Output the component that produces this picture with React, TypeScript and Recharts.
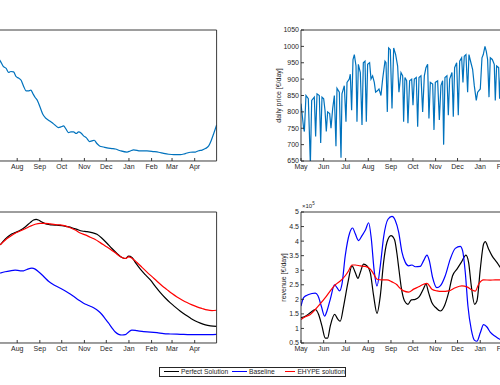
import React from 'react';
import { LineChart, Line, XAxis, YAxis, Legend } from 'recharts';

type Pt = [number, number];

// x values are days counted from 1 May; ticks sit on the first day of each month
const monthTicks = [0, 31, 61, 92, 123, 153, 184, 214, 245, 276, 304, 335];
const monthLabels = ['May', 'Jun', 'Jul', 'Aug', 'Sep', 'Oct', 'Nov', 'Dec', 'Jan', 'Feb', 'Mar', 'Apr'];
// the left column is cropped before August
const visibleLeftTicks = monthTicks.slice(3);

const levelTicks = [0, 1, 2, 3, 4, 5, 6];
const priceTicks = [650, 700, 750, 800, 850, 900, 950, 1000, 1050];
const storageTicks = [0, 1, 2, 3, 4, 5, 6, 7, 8];
const revenueTicks = [0.5, 1, 1.5, 2, 2.5, 3, 3.5, 4, 4.5, 5];

const seriesNames = ['Perfect Solution', 'Baseline', 'EHYPE solution'];

// top left: only the part right of the crop is visible
const levelSeries: Pt[] = [
  [66, 4.7], [68.7, 4.59], [73.2, 4.32], [76.9, 4.24], [80.1, 4.06], [83.3, 4.1], [87, 4.08],
  [90.6, 3.86], [93.8, 3.8], [97.4, 3.7], [100.6, 3.44], [104.3, 3.21], [107.5, 3.21], [110.7, 3.25],
  [113.4, 3.09], [116.6, 2.91], [119.8, 2.76], [123.5, 2.45], [127.1, 2.14], [130.3, 1.99],
  [134.9, 1.87], [139.5, 1.76], [144, 1.64], [148.6, 1.53], [151.8, 1.56], [155.5, 1.61],
  [158.7, 1.47], [162.3, 1.3], [165.5, 1.33], [169.2, 1.33], [172.8, 1.26], [176, 1.33],
  [179.7, 1.27], [182.9, 1.15], [186.5, 1.07], [191.1, 0.89], [194.3, 0.92], [197.5, 0.95],
  [201.1, 0.8], [204.8, 0.69], [210.3, 0.64], [214.9, 0.6], [221.7, 0.57], [226.3, 0.55],
  [233.2, 0.47], [242.3, 0.41], [246.9, 0.46], [251.4, 0.51], [260.6, 0.46], [269.7, 0.46],
  [278.8, 0.43], [285.7, 0.4], [292.5, 0.35], [299.4, 0.31], [306.2, 0.29], [315.4, 0.29],
  [322.2, 0.34], [329.1, 0.4], [336, 0.41], [340.5, 0.47], [345.1, 0.5], [349.7, 0.57],
  [354.2, 0.69], [357.4, 0.92], [361.1, 1.26], [365, 1.65],
];

const priceSeries: Pt[] = [
  [0, 825], [3.6, 750], [4.6, 740], [6.8, 850], [10, 840], [12.8, 640], [14.6, 835], [18.2, 845],
  [20, 725], [21.9, 855], [25, 850], [26.9, 705], [28.7, 845], [31, 840], [32.8, 805], [34.6, 740],
  [36.4, 800], [39.2, 795], [41, 750], [43.3, 810], [45.6, 850], [47.8, 695], [49.2, 872],
  [52.4, 860], [54.7, 660], [56, 855], [59.2, 880], [61.5, 770], [62.9, 890], [66, 900],
  [67.4, 915], [69.2, 805], [71.1, 960], [72.9, 975], [75.2, 940], [76.5, 770], [78.4, 945],
  [81.1, 920], [83.4, 760], [85.2, 950], [87.5, 955], [89.3, 770], [91.1, 945], [93.8, 950],
  [95.7, 900], [97.9, 910], [100.2, 890], [102, 860], [104.8, 865], [106.6, 870], [109.3, 850],
  [111.6, 900], [114.8, 955], [116.2, 950], [118, 800], [119.8, 995], [122.1, 990], [124.4, 810],
  [126.7, 995], [129.4, 975], [132.1, 940], [133.9, 860], [136.7, 920], [139, 910], [140.3, 770],
  [142.1, 905], [144.4, 895], [146.2, 765], [148.5, 895], [151.3, 900], [153.1, 820], [154.9, 900],
  [157.6, 905], [159.5, 755], [161.3, 905], [164, 910], [166.3, 800], [168.6, 910], [170.8, 935],
  [173.1, 945], [174.9, 780], [176.8, 890], [180, 885], [181.8, 745], [183.6, 890], [186.8, 895],
  [189.1, 775], [191.3, 880], [193.6, 895], [195, 700], [196.8, 905], [199.5, 910], [201.4, 790],
  [203.2, 900], [206.4, 920], [208.2, 785], [210, 935], [212.8, 950], [215, 790], [216.9, 955],
  [219.6, 965], [221.4, 890], [223.2, 970], [225.5, 975], [227.8, 860], [229.6, 975], [232.3, 950],
  [234.6, 930], [236.9, 880], [239.6, 835], [241.5, 860], [245.1, 870], [247.4, 965], [249.2, 975],
  [251.5, 1000], [253.3, 985], [255.1, 960], [257, 845], [258.8, 965], [261.5, 960], [264.2, 945],
  [265.6, 835], [267.4, 940], [270.2, 935], [271.5, 840], [273.3, 930], [276, 925],
];

const storagePerfect: Pt[] = [
  [68.7, 5.99], [75.5, 6.34], [82.4, 6.6], [89.2, 6.74], [96.1, 6.88], [102.9, 7.09], [109.8, 7.35],
  [114.4, 7.51], [118, 7.55], [121.2, 7.51], [125.8, 7.39], [132.6, 7.25], [139.5, 7.21],
  [146.3, 7.19], [153.2, 7.17], [160.1, 7.11], [166.9, 7.04], [173.8, 6.94], [180.6, 6.84],
  [187.5, 6.8], [194.3, 6.74], [201.2, 6.64], [208, 6.4], [214.9, 6.09], [221.7, 5.77],
  [228.6, 5.47], [235.4, 5.22], [240, 5.16], [244.6, 5.3], [249.1, 5.22], [253.7, 4.92],
  [260.6, 4.51], [267.4, 4.17], [274.3, 3.85], [281.1, 3.46], [288, 3.08], [294.8, 2.75],
  [301.7, 2.45], [308.5, 2.19], [315.4, 1.94], [322.2, 1.72], [329.1, 1.52], [336, 1.34],
  [342.8, 1.21], [349.7, 1.11], [356.5, 1.05], [365, 1.01],
];

const storageBaseline: Pt[] = [
  [68.7, 4.27], [75.5, 4.35], [82.4, 4.41], [89.2, 4.45], [96.1, 4.41], [100.7, 4.41], [105.2, 4.49],
  [112.1, 4.57], [116.6, 4.51], [121.2, 4.35], [125.8, 4.17], [130.3, 3.97], [134.9, 3.77],
  [141.8, 3.56], [148.6, 3.4], [155.5, 3.24], [162.3, 3.06], [169.2, 2.85], [176, 2.63],
  [182.9, 2.43], [189.7, 2.29], [196.6, 2.15], [203.5, 1.94], [208, 1.74], [212.6, 1.48],
  [217.2, 1.21], [221.7, 0.93], [226.3, 0.67], [230.9, 0.53], [235.4, 0.49], [240, 0.51],
  [244.6, 0.67], [249.1, 0.79], [256, 0.75], [265.1, 0.69], [274.3, 0.67], [283.4, 0.63],
  [292.5, 0.57], [301.7, 0.55], [315.4, 0.53], [329.1, 0.51], [342.8, 0.51], [356.5, 0.51],
  [365, 0.53],
];

const storageEhype: Pt[] = [
  [68.7, 5.99], [75.5, 6.28], [82.4, 6.5], [89.2, 6.7], [96.1, 6.84], [102.9, 6.98], [109.8, 7.13],
  [116.6, 7.25], [123.5, 7.31], [130.3, 7.31], [137.2, 7.27], [144.1, 7.23], [150.9, 7.21],
  [157.8, 7.15], [164.6, 7.04], [171.5, 6.9], [178.3, 6.72], [185.2, 6.6], [192, 6.46],
  [198.9, 6.32], [205.7, 6.13], [212.6, 5.93], [219.5, 5.73], [226.3, 5.51], [233.2, 5.28],
  [240, 5.16], [244.6, 5.26], [249.1, 5.18], [256, 4.92], [262.9, 4.62], [269.7, 4.33],
  [276.6, 4.05], [283.4, 3.77], [290.3, 3.5], [297.1, 3.26], [304, 3.02], [310.8, 2.81],
  [317.7, 2.63], [324.5, 2.47], [331.4, 2.33], [338.2, 2.21], [345.1, 2.11], [352, 2.02],
  [358.8, 1.98], [365, 2.0],
];

// revenue in units of 1e5 €/day
const revenuePerfect: Pt[] = [
  [0, 1.37], [5.9, 1.42], [12.7, 1.54], [19.5, 1.65], [24.1, 1.48], [28.7, 1.08], [33.2, 0.67],
  [36.4, 0.67], [40, 1.08], [45.9, 1.48], [50.6, 1.31], [53.7, 1.25], [58.3, 1.77], [64.2, 2.58],
  [69.7, 3.15], [74.2, 2.92], [77.9, 2.72], [81, 2.92], [85.6, 3.21], [90.2, 3.15], [94.7, 2.92],
  [99.3, 2.12], [103.9, 1.52], [108.4, 2.12], [112.9, 3.27], [117.5, 3.96], [123, 4.19],
  [127.9, 4.05], [131, 3.6], [134, 3.0], [137.1, 2.4], [141.6, 1.94], [146.2, 1.83], [150.8, 1.98],
  [156.2, 2.0], [161.7, 2.09], [167.6, 2.37], [170.8, 2.52], [174.4, 2.23], [179, 1.88],
  [184.5, 1.71], [190.4, 1.6], [196.3, 1.79], [201.8, 2.23], [207.2, 2.81], [213.2, 3.04],
  [219.1, 3.27], [225.5, 3.52], [229.1, 3.27], [232.8, 2.46], [237.3, 1.83], [240.5, 1.94],
  [245.1, 3.04], [249.6, 3.9], [251.9, 3.98], [256.4, 3.73], [261, 3.5], [267.8, 3.27],
  [272.4, 3.1], [276, 3.02],
];

const revenueBaseline: Pt[] = [
  [0, 1.77], [3.6, 2.06], [8.2, 2.14], [15, 2.2], [19.5, 2.21], [23.2, 2.12], [27.7, 1.77],
  [32.3, 1.42], [35.5, 1.6], [40, 2.0], [45.9, 2.5], [49.2, 2.4], [52.8, 2.29], [56, 2.52],
  [60.5, 3.5], [66.5, 4.28], [70.6, 4.45], [74.2, 4.25], [78.8, 4.02], [83.4, 4.19], [87.9, 4.37],
  [92.5, 4.63], [96.1, 4.08], [99.8, 3.04], [103.9, 2.46], [108.4, 3.15], [112.9, 4.13],
  [118.9, 4.75], [124.4, 4.85], [128.9, 4.71], [133.5, 4.31], [138, 3.62], [142.6, 3.27],
  [147.1, 3.15], [151.7, 3.18], [156.2, 3.12], [163, 3.13], [167.6, 3.33], [172.2, 3.52],
  [175.4, 3.33], [179.9, 2.75], [185.8, 2.4], [190.4, 2.46], [197.2, 2.81], [204, 3.38],
  [210.9, 3.75], [217.7, 3.82], [220.9, 3.67], [224.6, 2.92], [228.2, 1.77], [232.8, 0.96],
  [237.3, 0.59], [240.5, 0.56], [245.1, 0.85], [249.6, 1.13], [254.2, 1.05], [258.7, 0.87],
  [265.5, 0.73], [272.4, 0.62], [276, 0.58],
];

const revenueEhype: Pt[] = [
  [0, 1.31], [5.9, 1.4], [12.7, 1.48], [19.5, 1.65], [26.4, 1.85], [33.2, 2.06], [40, 2.29],
  [46.9, 2.5], [53.7, 2.63], [60.5, 2.81], [65.1, 2.98], [69.7, 3.18], [74.2, 3.18], [81, 3.15],
  [87.9, 3.13], [94.7, 3.04], [99.3, 2.87], [103.9, 2.69], [110.7, 2.67], [117.5, 2.67],
  [124.4, 2.6], [131.2, 2.5], [133.5, 2.43], [140.3, 2.29], [147.1, 2.25], [154, 2.35],
  [160.8, 2.43], [167.6, 2.52], [172.2, 2.55], [179, 2.35], [185.8, 2.29], [192.7, 2.27],
  [201.8, 2.29], [210.9, 2.4], [220, 2.46], [226.8, 2.43], [233.7, 2.32], [238.2, 2.28],
  [242.8, 2.52], [249.6, 2.67], [258.7, 2.66], [265.5, 2.67], [272.4, 2.67], [276, 2.67],
];

const FONT = '"Liberation Sans", Arial, Helvetica, sans-serif';
const INK = '#262626';
const M = 4;
const YW = 40;
const XH = 20;

type Box = { left: number; top: number; right: number; bottom: number };

// plot-area boxes in page pixels (left column is cropped on the left, right column on the right)
const boxTL: Box = { left: -50.1, top: 29.5, right: 216.5, bottom: 160.5 };
const boxTR: Box = { left: 300.5, top: 29.5, right: 567.5, bottom: 160.5 };
const boxBL: Box = { left: -50.1, top: 211.5, right: 216.5, bottom: 342.5 };
const boxBR: Box = { left: 300.5, top: 211.5, right: 567.5, bottom: 342.5 };

const pts = (s: Pt[]) => s.map(([d, v]) => ({ d, v }));
const monthName = (v: number) => monthLabels[monthTicks.indexOf(v)] ?? '';

const axisLine = { stroke: INK, strokeWidth: 0.9 };
const tickText = { fontSize: 7, fill: INK, fontFamily: FONT };

function place(b: Box) {
  return {
    left: b.left - M - YW,
    top: b.top - M - 1,
    width: b.right - b.left + YW + 2 * M + 1,
    height: b.bottom - b.top + XH + 2 * M + 1,
  };
}

function frameAxes(xTicks: number[], yDomain: number[], yTicks: number[], showY: boolean, yLabel?: string, labelOffset = 0) {
  return [
    <XAxis key="xb" xAxisId="b" dataKey="d" type="number" domain={[0, 365]} ticks={xTicks}
      interval={0} tickFormatter={monthName} tick={tickText} tickSize={-3} tickMargin={6.5}
      height={XH} axisLine={axisLine} tickLine={axisLine} allowDataOverflow />,
    <XAxis key="xt" xAxisId="t" orientation="top" dataKey="d" type="number" domain={[0, 365]}
      ticks={xTicks} interval={0} tick={false} tickSize={-3} height={1}
      axisLine={axisLine} tickLine={axisLine} allowDataOverflow />,
    <YAxis key="yl" yAxisId="l" type="number" domain={yDomain} ticks={yTicks} interval={0}
      tick={showY ? tickText : false} tickSize={-3} tickMargin={5} width={YW}
      axisLine={axisLine} tickLine={axisLine} allowDataOverflow
      label={yLabel ? {
        value: yLabel, angle: -90, position: 'insideLeft', offset: labelOffset,
        style: { textAnchor: 'middle', fontSize: 7, fill: INK, fontFamily: FONT },
      } : undefined} />,
    <YAxis key="yr" yAxisId="r" orientation="right" type="number" domain={yDomain} ticks={yTicks}
      interval={0} tick={false} tickSize={-3} width={1} axisLine={axisLine} tickLine={axisLine}
      allowDataOverflow />,
  ];
}

const legendWidths = [68.4, 53.3, 60];

const renderLegend = (props: any) => {
  const items = [...(props.payload || [])].sort(
    (a: any, b: any) => seriesNames.indexOf(a.value) - seriesNames.indexOf(b.value),
  );
  return (
    <div style={{
      display: 'flex', alignItems: 'center', boxSizing: 'border-box', height: 10, width: 187,
      border: `0.8px solid ${INK}`, background: '#fff', paddingLeft: 4,
      fontFamily: FONT, fontSize: 6.7, color: INK, lineHeight: '8px',
    }}>
      {items.map((it: any, i: number) => (
        <div key={it.value} style={{ display: 'flex', alignItems: 'center', width: legendWidths[i], whiteSpace: 'nowrap' }}>
          <span style={{ display: 'inline-block', width: 15, borderTop: `1.2px solid ${it.color}`, marginRight: 2 }} />
          <span>{it.value}</span>
        </div>
      ))}
    </div>
  );
};

const lineProps = { xAxisId: 'b', yAxisId: 'l', dataKey: 'v', dot: false, isAnimationActive: false } as const;

export default function App() {
  const tl = place(boxTL);
  const tr = place(boxTR);
  const bl = place(boxBL);
  const br = place(boxBR);
  return (
    <div style={{ position: 'absolute', left: 0, top: 0, width: 500, height: 385, overflow: 'hidden', background: '#fff' }}>
      <div style={{ position: 'absolute', left: tl.left, top: tl.top }}>
        <LineChart width={tl.width} height={tl.height} margin={{ top: M, right: M, bottom: M, left: M }}>
          {frameAxes(visibleLeftTicks, [0, 6], levelTicks, false)}
          <Line {...lineProps} data={pts(levelSeries)} type="monotone" stroke="#0072BD" strokeWidth={1.2} />
        </LineChart>
      </div>

      <div style={{ position: 'absolute', left: tr.left, top: tr.top }}>
        <LineChart width={tr.width} height={tr.height} margin={{ top: M, right: M, bottom: M, left: M }}>
          {frameAxes(monthTicks, [650, 1050], priceTicks, true, 'daily price [€/day]', 17.8)}
          <Line {...lineProps} data={pts(priceSeries)} type="linear" stroke="#0072BD" strokeWidth={1.2} />
        </LineChart>
      </div>

      <div style={{ position: 'absolute', left: bl.left, top: bl.top }}>
        <LineChart width={bl.width} height={bl.height} margin={{ top: M, right: M, bottom: M, left: M }}>
          {frameAxes(visibleLeftTicks, [0, 8], storageTicks, false)}
          <Line {...lineProps} data={pts(storagePerfect)} name={seriesNames[0]} type="monotone" stroke="#000000" strokeWidth={1.2} />
          <Line {...lineProps} data={pts(storageBaseline)} name={seriesNames[1]} type="monotone" stroke="#0000FF" strokeWidth={1.2} />
          <Line {...lineProps} data={pts(storageEhype)} name={seriesNames[2]} type="monotone" stroke="#FF0000" strokeWidth={1.2} />
          <Legend verticalAlign="middle" align="center" layout="horizontal" content={renderLegend}
            wrapperStyle={{ left: 159 - bl.left, top: 366.5 - bl.top, width: 187, height: 10 }} />
        </LineChart>
      </div>

      <div style={{ position: 'absolute', left: br.left, top: br.top }}>
        <LineChart width={br.width} height={br.height} margin={{ top: M, right: M, bottom: M, left: M }}>
          {frameAxes(monthTicks, [0.5, 5], revenueTicks, true, 'revenue [€/day]', 22.8)}
          <Line {...lineProps} data={pts(revenuePerfect)} name={seriesNames[0]} type="monotone" stroke="#000000" strokeWidth={1.2} />
          <Line {...lineProps} data={pts(revenueBaseline)} name={seriesNames[1]} type="monotone" stroke="#0000FF" strokeWidth={1.2} />
          <Line {...lineProps} data={pts(revenueEhype)} name={seriesNames[2]} type="monotone" stroke="#FF0000" strokeWidth={1.2} />
        </LineChart>
      </div>

      <div style={{ position: 'absolute', left: 302, top: 202, fontFamily: FONT, fontSize: 6, color: INK, lineHeight: '8px' }}>
        ×10<sup style={{ fontSize: 4.5, verticalAlign: 'top', lineHeight: '4px' }}>5</sup>
      </div>
    </div>
  );
}
